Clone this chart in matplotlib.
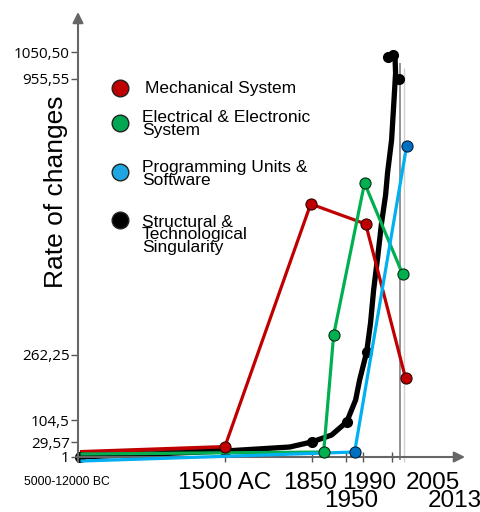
import numpy as np
import matplotlib.pyplot as plt

# schematic axes: anchors of the hand-drawn scales (data value -> pixel)
x_anchor_years = [-19450, -12000, 1500, 1850, 1950, 1990, 2005, 2013, 2035]
x_anchor_px = [0, 80, 225, 312, 346, 363, 392, 400, 481.5]
y_anchor_vals = [-103, 1, 29.57, 104.5, 262.25, 955.55, 1050.5, 1234]
y_anchor_px = [0, 55, 70, 92, 157, 433, 460, 512]

y_ticks = [1, 29.57, 104.5, 262.25, 955.55, 1050.5]
y_tick_labels = ['1', '29,57', '104,5', '262,25', '955,55', '1050,50']
x_ticks = [1500, 1850, 1950, 1990, 2005]

# series (year, rate of changes)
mech_x = [-11800, 1500, 1846, 1991.6, 2014.6]
mech_y = [10.5, 20, 641.6, 591.3, 206.4]
elec_x = [-11800, 1885.3, 1914.7, 1991.0, 2013.8]
elec_y = [6.7, 10.5, 312.5, 694.3, 465.7]
prog_x = [-11800, 1971.2, 2014.9]
prog_y = [-6.6, 10.5, 787.3]
sing_curve_x = [-12000, 1496, 1761.5, 1850, 1908.8, 1952.4, 1973.5, 1982.9, 1992.1,
                1994.1, 1995.7, 1997.8, 1999.8, 2001.9, 2002.9, 2005, 2007, 2009,
                2008.5, 2006, 2002.9]
sing_curve_y = [1, 12.4, 20.0, 29.6, 53.4, 97.7, 153.0, 201.6, 269.8,
                342.6, 425.5, 508.4, 593.8, 664.2, 719.4, 802.3, 885.2, 976.6,
                1025, 1040.1, 1032.9]
sing_x = [-12000, 1496, 1850, 1952.4, 1992.1, 2002.9, 2006, 2012]
sing_y = [1, 12.4, 29.6, 97.7, 269.8, 1032.9, 1040.1, 955.55]

legend_names = ['Mechanical System', 'Electrical & Electronic\nSystem',
                'Programming Units &\nSoftware', 'Structural &\nTechnological\nSingularity']
legend_colors = ['#c00000', '#00a651', '#1ea6e0', '#000000']

red = '#c00000'
green = '#00b050'
blue = '#00b0f0'
blue_dark = '#0070c0'

W, H = 481, 512
fig = plt.figure(figsize=(W / 100, H / 100), dpi=100)
ax = fig.add_axes([0, 0, 1, 1])


def xf(v):
    return np.interp(v, x_anchor_years, x_anchor_px)


def xi(p):
    return np.interp(p, x_anchor_px, x_anchor_years)


def yf(v):
    return np.interp(v, y_anchor_vals, y_anchor_px)


def yi(p):
    return np.interp(p, y_anchor_px, y_anchor_vals)


ax.set_xscale('function', functions=(xf, xi))
ax.set_yscale('function', functions=(yf, yi))

# lines
ax.plot(sing_curve_x, sing_curve_y, color='black', lw=3.8,
        solid_capstyle='round', solid_joinstyle='round', zorder=3)
ax.plot(sing_x, sing_y, 'o', color='black', ms=7, zorder=3)
ax.plot(mech_x[1:], mech_y[1:], color=red, lw=2.3, zorder=4)
ax.plot(mech_x[:2], mech_y[:2], color=red, lw=3, zorder=2)
ax.plot(mech_x[1:], mech_y[1:], 'o', color=red, mec='#300000', mew=0.8, ms=8, zorder=5)
ax.plot(elec_x, elec_y, color=green, lw=2.3, zorder=4)
ax.plot(elec_x[1:], elec_y[1:], 'o', color=green, mec='#003010', mew=0.8, ms=8, zorder=5)
ax.plot(prog_x, prog_y, color=blue, lw=2.3, zorder=4)
ax.plot(prog_x[1:], prog_y[1:], 'o', color=blue_dark, mec='#002040', mew=0.8, ms=8, zorder=5)

# vertical marker lines at the right
ax.vlines(2013, -4.7, 1011.8, color='#8a8a8a', lw=1.3, zorder=1)
ax.vlines(2014.1, -8.5, 995, color='#d0d0d0', lw=1.0, zorder=1)

ax.set_xlim(x_anchor_years[0], x_anchor_years[-1])
ax.set_ylim(y_anchor_vals[0], y_anchor_vals[-1])

for s in ax.spines.values():
    s.set_visible(False)
ax.spines['left'].set_position(('axes', 78 / W))
ax.spines['bottom'].set_position(('axes', 55 / H))

ax.set_yticks(y_ticks)
ax.set_yticklabels(y_tick_labels, fontfamily='Open Sans', fontsize=11)
ax.tick_params(axis='y', direction='out', length=5, width=1, color='#555555', pad=1)
ax.set_xticks(x_ticks)
ax.set_xticklabels([])
ax.tick_params(axis='x', direction='inout', length=7, width=1, color='#555555')
ax.minorticks_off()

# axis arrows
arrow = dict(arrowstyle='-|>', color='#666666', lw=1.5, mutation_scale=16, shrinkA=0, shrinkB=0)
ax.annotate('', xy=(78 / W, 1 - 12 / H), xytext=(78 / W, 1 - 462 / H),
            xycoords='axes fraction', arrowprops=arrow)
ax.annotate('', xy=(465 / W, 55 / H), xytext=(76 / W, 55 / H),
            xycoords='axes fraction', arrowprops=arrow)

# x labels (hand placed under the axis)
lab = dict(fontfamily='Liberation Sans', fontsize=17.5, ha='center', va='center')
ax.text(225 / W, 1 - 483 / H, '1500 AC', transform=ax.transAxes, **lab)
ax.text(310 / W, 1 - 483 / H, '1850', transform=ax.transAxes, **lab)
ax.text(369 / W, 1 - 483 / H, '1990', transform=ax.transAxes, **lab)
ax.text(351 / W, 1 - 501 / H, '1950', transform=ax.transAxes, **lab)
ax.text(433 / W, 1 - 483 / H, '2005', transform=ax.transAxes, **lab)
ax.text(455 / W, 1 - 501 / H, '2013', transform=ax.transAxes, **lab)
ax.text(67 / W, 1 - 482 / H, '5000-12000 BC', transform=ax.transAxes,
        fontfamily='Liberation Sans', fontsize=8.7, ha='center', va='center')

ax.text(56 / W, 1 - 192 / H, 'Rate of changes', transform=ax.transAxes, rotation=90,
        fontfamily='Liberation Sans', fontsize=19, ha='center', va='center')

# legend
marker_y = [88, 123, 172, 220]
text_y = [88, 124, 174, 235]
text_x = [145, 142, 142, 142]
for name, c, my, ty, tx in zip(legend_names, legend_colors, marker_y, text_y, text_x):
    ax.plot([120 / W], [1 - my / H], 'o', color=c, mec='#222222', mew=1, ms=12,
            transform=ax.transAxes, clip_on=False)
    ax.text(tx / W, 1 - ty / H, name, transform=ax.transAxes, fontfamily='Liberation Sans',
            fontsize=12.5, ha='left', va='center', linespacing=0.8)

fig.savefig('out.png', dpi=100)
